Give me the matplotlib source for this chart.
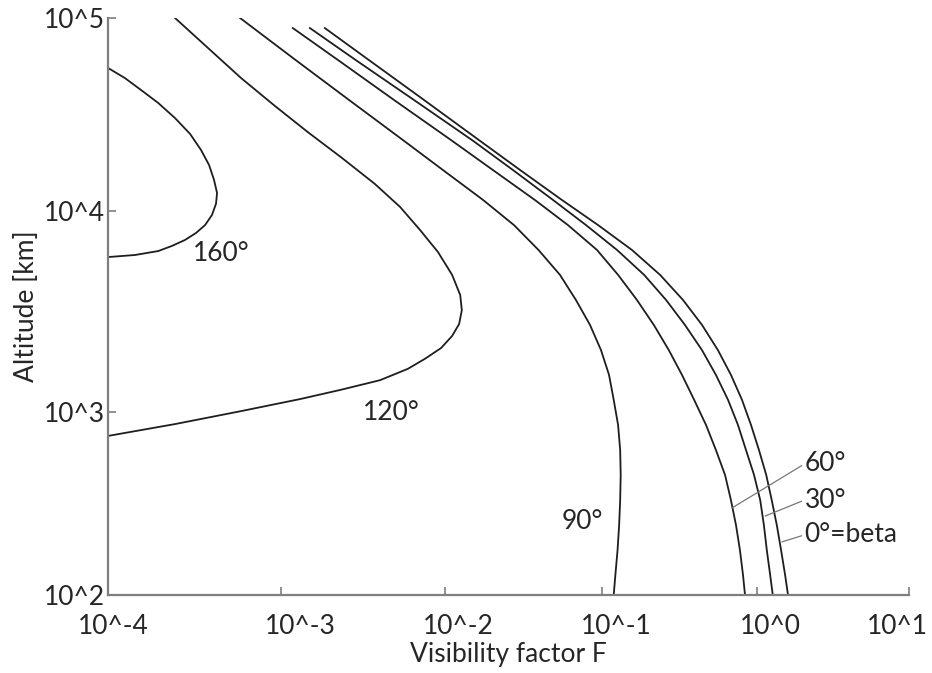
import numpy as np
import matplotlib
matplotlib.use("Agg")
import matplotlib.pyplot as plt
from matplotlib.transforms import ScaledTranslation

plt.rcParams['font.family'] = ['Lato', 'DejaVu Sans']

# tick decades and where they sit along each axis (the original axis is not evenly spaced)
x_decades = [-4, -3, -2, -1, 0, 1]
x_decade_pos = [0, 173, 337, 494, 649, 801]
y_decades = [2, 3, 4, 5]
y_decade_pos = [0, 183, 384, 577]

x_ticklabels = ['10^-4', '10^-3', '10^-2', '10^-1', '10^0', '10^1']
y_ticklabels = ['10^2', '10^3', '10^4', '10^5']

# curves: visibility factor F vs altitude [km]
f_160 = [1.0e-4, 1.25e-4, 1.55e-4, 1.95e-4, 2.44e-4, 2.98e-4, 3.45e-4, 3.84e-4, 4.10e-4, 4.27e-4,
         4.21e-4, 3.99e-4, 3.64e-4, 3.23e-4, 2.79e-4, 2.34e-4, 1.95e-4, 1.43e-4, 1.0e-4]
alt_160 = [5.51e4, 4.89e4, 4.24e4, 3.63e4, 3.03e4, 2.51e4, 2.07e4, 1.73e4, 1.45e4, 1.24e4,
           1.09e4, 9.55e3, 8.51e3, 7.78e3, 7.18e3, 6.70e3, 6.32e3, 6.04e3, 5.90e3]

f_120 = [2.44e-4, 3.78e-4, 5.87e-4, 9.23e-4, 1.46e-3, 2.36e-3, 3.74e-3, 5.32e-3, 7.05e-3, 9.06e-3,
         1.11e-2, 1.25e-2, 1.28e-2, 1.23e-2, 1.11e-2, 9.46e-3, 7.55e-3, 5.94e-3, 4.02e-3, 2.32e-3,
         1.31e-3, 5.87e-4, 2.44e-4, 1.0e-4]
alt_120 = [1.0e5, 7.00e4, 4.89e4, 3.50e4, 2.56e4, 1.88e4, 1.38e4, 1.05e4, 8.04e3, 6.25e3,
           4.81e3, 3.82e3, 3.21e3, 2.74e3, 2.39e3, 2.08e3, 1.84e3, 1.64e3, 1.44e3, 1.29e3,
           1.16e3, 1.01e3, 859, 740]

alt_90 = [1.0e5, 6.05e4, 3.76e4, 2.31e4, 1.63e4, 1.14e4, 8.51e3, 6.40e3, 4.81e3, 3.61e3, 2.71e3,
          2.03e3, 1.53e3, 1.15e3, 849, 620, 453, 330, 241, 176, 129, 100]
f_90 = [5.80e-4, 1.23e-3, 2.60e-3, 5.62e-3, 9.72e-3, 1.75e-2, 2.75e-2, 3.94e-2, 5.40e-2, 6.82e-2,
        8.39e-2, 9.86e-2, 0.111, 0.119, 0.127, 0.131, 0.132, 0.131, 0.129, 0.126, 0.122, 0.119]

# the 60, 30 and 0 degree curves share one altitude grid
alt_grid = [8.87e4, 6.05e4, 3.76e4, 2.31e4, 1.63e4, 1.14e4, 8.51e3, 6.40e3, 4.81e3, 3.61e3, 2.71e3,
            2.03e3, 1.53e3, 1.15e3, 849, 620, 453, 330, 241, 176, 129, 100]
f_60 = [1.18e-3, 2.23e-3, 4.89e-3, 1.11e-2, 2.02e-2, 3.74e-2, 6.07e-2, 9.29e-2, 0.127, 0.168, 0.216,
        0.270, 0.328, 0.393, 0.469, 0.543, 0.622, 0.679, 0.732, 0.776, 0.812, 0.837]
f_30 = [1.50e-3, 2.86e-3, 6.47e-3, 1.51e-2, 2.71e-2, 4.88e-2, 7.91e-2, 0.125, 0.187, 0.259, 0.343,
        0.442, 0.543, 0.650, 0.754, 0.849, 0.957, 1.05, 1.11, 1.16, 1.22, 1.27]
f_0 = [1.85e-3, 3.44e-3, 7.45e-3, 1.67e-2, 3.01e-2, 5.56e-2, 9.44e-2, 0.156, 0.237, 0.333, 0.442,
       0.560, 0.679, 0.800, 0.915, 1.03, 1.15, 1.25, 1.35, 1.44, 1.53, 1.60]


def x_fwd(x):
    return np.interp(np.log10(np.clip(x, 1e-300, None)), x_decades, x_decade_pos)

def x_inv(p):
    return 10.0 ** np.interp(p, x_decade_pos, x_decades)

def y_fwd(y):
    return np.interp(np.log10(np.clip(y, 1e-300, None)), y_decades, y_decade_pos)

def y_inv(p):
    return 10.0 ** np.interp(p, y_decade_pos, y_decades)


fig = plt.figure(figsize=(9.32, 6.73), dpi=100)
ax = fig.add_axes([108 / 932, 1 - 595 / 673, 801 / 932, 577 / 673])
ax.set_xscale('function', functions=(x_fwd, x_inv))
ax.set_yscale('function', functions=(y_fwd, y_inv))

line_kw = dict(color='#1e1e1e', lw=1.3, solid_joinstyle='round')
for f, alt in [(f_160, alt_160), (f_120, alt_120), (f_90, alt_90),
               (f_60, alt_grid), (f_30, alt_grid), (f_0, alt_grid)]:
    ax.plot(f, alt, **line_kw)

ax.set_xlim(1e-4, 1e1)
ax.set_ylim(1e2, 1e5)

ax.set_xticks([10.0 ** d for d in x_decades])
ax.set_xticklabels(x_ticklabels)
ax.set_yticks([10.0 ** d for d in y_decades])
ax.set_yticklabels(y_ticklabels)
ax.xaxis.set_minor_locator(matplotlib.ticker.NullLocator())
ax.yaxis.set_minor_locator(matplotlib.ticker.NullLocator())

axis_grey = '#7f7f7f'
for side in ['top', 'right']:
    ax.spines[side].set_visible(False)
for side in ['left', 'bottom']:
    ax.spines[side].set_color(axis_grey)
    ax.spines[side].set_linewidth(1.6)
ax.tick_params(axis='both', direction='in', length=6, width=1.2, color=axis_grey,
               labelsize=19, labelcolor='#262626')
ax.tick_params(axis='x', pad=14)
ax.tick_params(axis='y', pad=2)

# the x tick labels in the original sit a little off their ticks
x_label_shift = [5, 19, 13, 14, 13, -12]
for lab, dx in zip(ax.get_xticklabels(), x_label_shift):
    lab.set_transform(lab.get_transform() + ScaledTranslation(dx / 100, 0, fig.dpi_scale_trans))

ax.set_xlabel('Visibility factor F', fontsize=19, color='#262626', labelpad=2)
ax.set_ylabel('Altitude [km]', fontsize=19, color='#262626', labelpad=4)

# curve labels
txt_kw = dict(fontsize=19, color='#262626', ha='center', va='center')
ax.text(4.5e-4, 6.18e3, '160°', **txt_kw)
ax.text(4.69e-3, 988, '120°', **txt_kw)
ax.text(7.46e-2, 251, '90°', **txt_kw)

lead_kw = dict(arrowstyle='-', color='#777777', lw=0.9, shrinkA=0, shrinkB=0, relpos=(0, 0.5))
ax.annotate('60°', xy=(0.69, 299), xytext=(2.05, 520), fontsize=19, color='#262626',
            ha='left', va='center', arrowprops=lead_kw)
ax.annotate('30°', xy=(1.13, 270), xytext=(2.05, 330), fontsize=19, color='#262626',
            ha='left', va='center', arrowprops=lead_kw)
ax.annotate('0°=beta', xy=(1.46, 195), xytext=(2.05, 213), fontsize=19, color='#262626',
            ha='left', va='center', arrowprops=lead_kw)

fig.savefig('out.png', dpi=100, facecolor='white')
